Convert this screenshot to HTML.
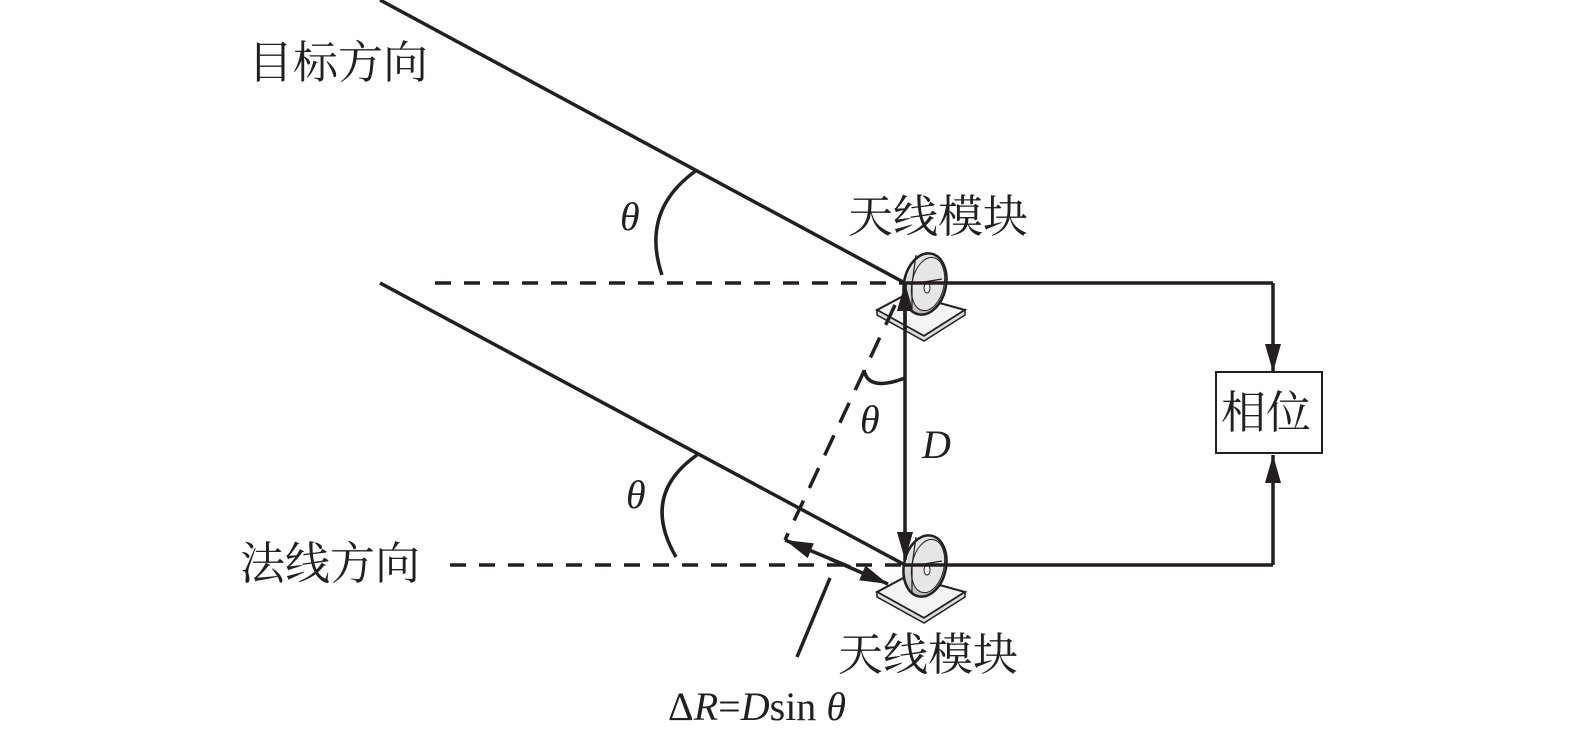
<!DOCTYPE html>
<html><head><style>
body{margin:0;background:#fff;}
svg text{font-family:"Liberation Serif","Noto Serif CJK SC",serif;fill:#231f20;}
</style></head><body>
<svg width="1575" height="731" viewBox="0 0 1575 731" xmlns="http://www.w3.org/2000/svg">
<defs>
<marker id="b" markerWidth="28" markerHeight="16" refX="28" refY="8" orient="auto" markerUnits="userSpaceOnUse"><path d="M0,0 L28,8 L0,16z" fill="#231f20"/></marker>
<linearGradient id="g" x1="0" y1="0" x2="1" y2="1"><stop offset="0" stop-color="#f2f2f2"/><stop offset="1" stop-color="#a8a8a8"/></linearGradient>
<g id="ant">
<path d="M-25,29 L5,13 L63,29 L22,55 Z" fill="#f4f4f4" stroke="#231f20" stroke-width="2"/>
<path d="M-25,29 L-25,34 L22,60 L63,34 L63,29 L22,55 Z" fill="#ddd" stroke="#231f20" stroke-width="1.5"/>
<ellipse cx="23" cy="3" rx="21" ry="31" transform="rotate(12 23 3)" fill="url(#g)" stroke="#231f20" stroke-width="2.5"/>
<ellipse cx="26" cy="3" rx="16" ry="27" transform="rotate(12 26 3)" fill="#e6e6e6" stroke="#231f20" stroke-width="1"/>
<path d="M10,3 L40,-2 M10,3 L10,31 M10,3 L14,-26" stroke="#231f20" stroke-width="1.2" fill="none"/>
<ellipse cx="25" cy="7" rx="3" ry="5" fill="#fff" stroke="#231f20" stroke-width="1"/>
</g>
</defs>
<g stroke="#231f20" stroke-width="3.5" fill="none">
<line x1="380" y1="0" x2="905" y2="283"/>
<line x1="380" y1="283" x2="905" y2="565"/>
<line x1="435" y1="283" x2="905" y2="283" stroke-dasharray="16,13"/>
<line x1="450" y1="565" x2="905" y2="565" stroke-dasharray="16,13"/>
</g>
<use href="#ant" x="902" y="281"/>
<use href="#ant" x="902" y="563"/>
<g stroke="#231f20" stroke-width="3.5" fill="none">
<line x1="905" y1="283" x2="1273" y2="283"/>
<line x1="905" y1="565" x2="1273" y2="565"/>
<line x1="1273" y1="283" x2="1273" y2="372" marker-end="url(#b)"/>
<line x1="1273" y1="565" x2="1273" y2="455" marker-end="url(#b)"/>
<line x1="905" y1="285" x2="905" y2="560" marker-end="url(#b)"/>
<line x1="905" y1="330" x2="905" y2="283" marker-end="url(#b)"/>
<line x1="895" y1="305" x2="785" y2="540" stroke-dasharray="22,14"/>
<line x1="830" y1="559" x2="888" y2="584" marker-end="url(#b)"/>
<line x1="850" y1="567" x2="785" y2="540" marker-end="url(#b)"/>
<line x1="830" y1="578" x2="797" y2="657"/>
<path d="M697,170 Q640,210 662,275"/>
<path d="M697,455 Q640,495 676,557"/>
<path d="M864,370 Q868,392 905,378"/>
<rect x="1216" y="372" width="106" height="81" stroke-width="2"/>
</g>
<g font-size="45">
<text x="248" y="78">目标方向</text>
<text x="848" y="232">天线模块</text>
<text x="240" y="579">法线方向</text>
<text x="838" y="670">天线模块</text>
<text x="1221" y="428">相位</text>
</g>
<g font-size="40" font-style="italic">
<text x="620" y="230">θ</text>
<text x="626" y="508">θ</text>
<text x="860" y="433">θ</text>
<text x="922" y="458">D</text>
</g>
<text x="668" y="720" font-size="40"><tspan>Δ</tspan><tspan font-style="italic">R</tspan>=<tspan font-style="italic">D</tspan>sin <tspan font-style="italic">θ</tspan></text>
</svg>
</body></html>
